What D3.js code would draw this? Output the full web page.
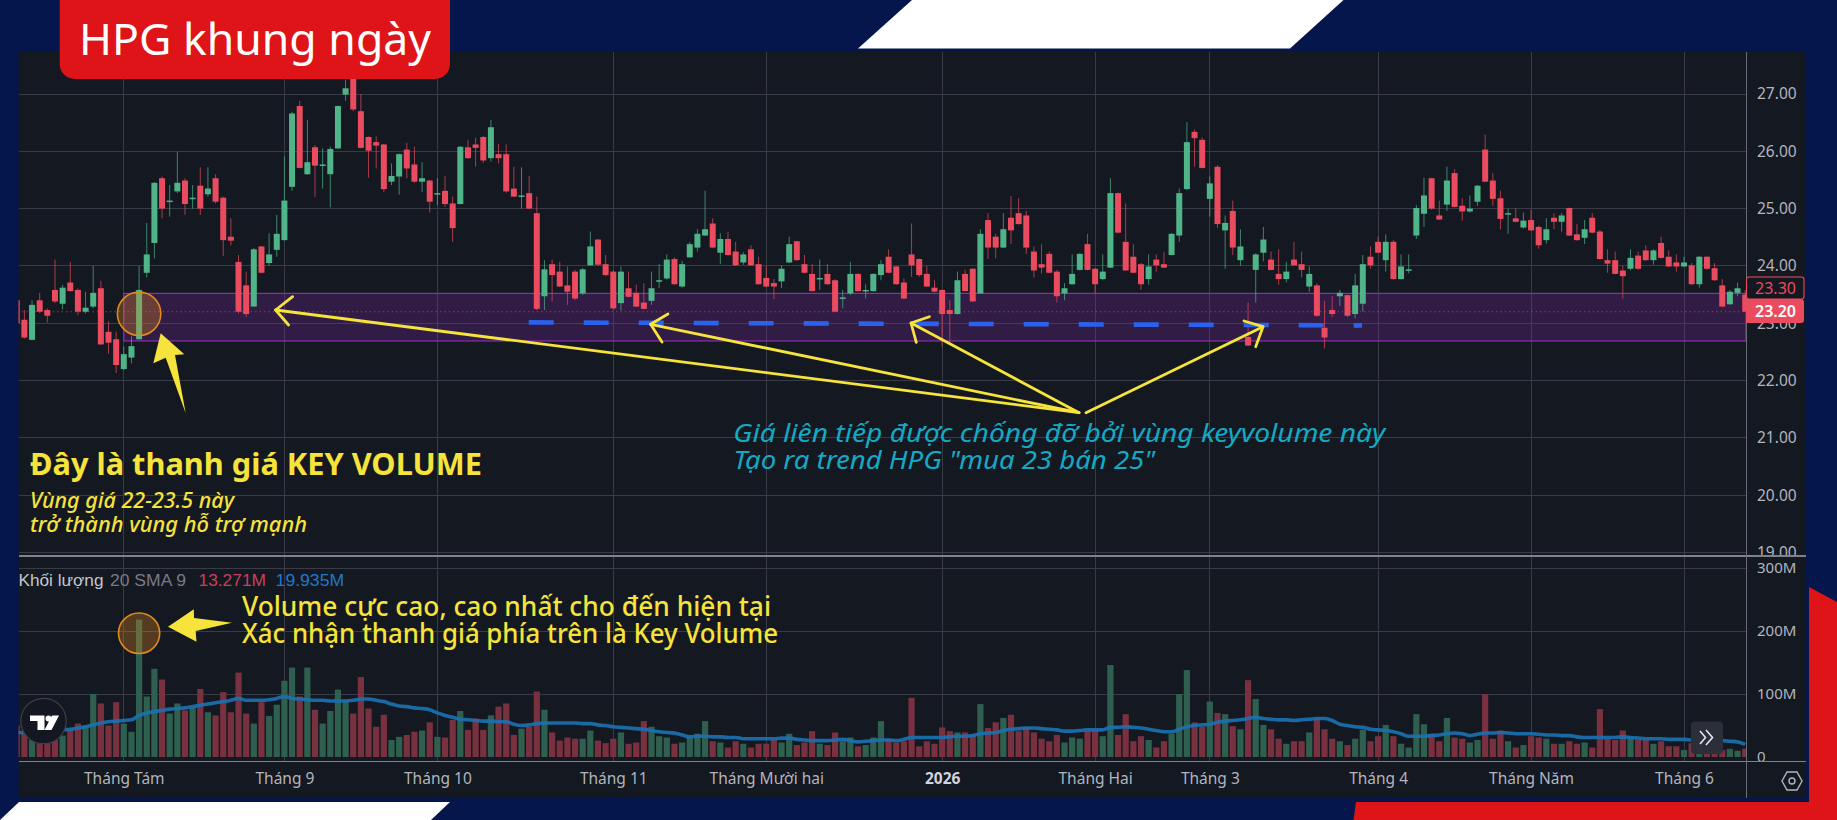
<!DOCTYPE html>
<html lang="vi">
<head>
<meta charset="utf-8">
<title>HPG khung ngày</title>
<script src="https://cdn.jsdelivr.net/npm/d3@7/dist/d3.min.js"></script>
<style>
  html, body { margin: 0; padding: 0; background: #05164c; overflow: hidden; }
  svg { display: block; }
  text { font-family: "Noto Sans", sans-serif; }
</style>
</head>
<body>
<svg id="chart" width="1837" height="820"></svg>
<script>
// Daily HPG candles (thousand VND), oldest first.
const opens = [
  23.4,23.06,22.71,23.4,23.23,23.58,23.34,23.71,23.58,23.2,
  23.29,23.61,22.85,22.72,22.2,22.4,22.72,23.88,24.4,25.53,
  25.12,25.3,25.49,25.17,25.4,25.25,25.53,25.19,24.51,24.07,
  23.66,23.29,24.34,24.05,24.28,24.45,25.38,26.79,25.6,26.07,
  25.75,25.6,26.05,26.99,27.3,26.7,26.25,26.16,26.12,25.47,
  25.56,26.03,25.77,25.47,25.49,25.25,25.31,25.09,25.08,26.07,
  26.12,26.25,25.88,25.95,25.95,25.35,25.21,25.27,24.92,23.47,
  24.03,23.9,23.66,23.9,23.52,24.01,24.46,24.03,23.9,23.35,
  23.61,23.53,23.36,23.39,23.73,23.78,24.12,23.64,24.15,24.32,
  24.53,24.74,24.23,24.47,24.25,24.06,24.29,24.03,23.79,23.7,
  23.73,24.06,24.43,24.03,23.86,23.77,23.86,23.75,23.43,23.52,
  23.86,23.56,23.56,23.84,24.16,23.99,23.71,24.2,24.12,23.86,
  23.62,23.58,23.23,23.16,23.86,23.95,23.52,24.8,24.51,24.32,
  24.84,24.92,24.88,24.25,24.03,24.21,23.9,23.52,23.68,23.93,
  24.38,23.95,23.77,23.97,25.27,24.42,24.16,24.03,23.77,24.11,
  24.03,24.19,24.53,25.34,26.34,26.2,25.17,25.73,24.62,24.96,
  24.1,22.76,23.93,24.23,24.11,23.86,23.77,24.11,24.03,23.64,
  23.66,22.92,23.23,23.47,23.49,23.16,23.34,24.16,24.42,24.1,
  24.42,23.77,23.93,24.53,24.91,25.53,24.88,25.07,25.62,25.05,
  24.95,25.12,26.03,25.49,25.18,24.91,24.83,24.67,24.8,24.68,
  24.45,24.84,24.77,25.01,24.55,24.49,24.84,24.6,24.1,24.1,
  23.92,23.95,24.18,24.27,24.1,24.4,24.16,24.06,23.99,24.01,
  23.68,24.16,23.96,23.66,23.33,23.53,23.5
];
const closes = [
  23.0,22.75,23.32,23.2,23.13,23.38,23.62,23.56,23.2,23.27,
  23.53,22.63,22.66,22.27,22.46,22.6,23.58,24.2,25.45,25.0,
  25.14,25.45,25.08,25.19,25.0,25.35,25.12,24.45,24.44,23.2,
  23.16,24.29,23.88,24.2,24.56,25.14,26.66,25.71,25.81,25.75,
  25.77,26.04,26.79,27.1,26.73,26.06,26.01,26.1,25.34,25.57,
  25.95,25.7,25.47,25.53,25.12,25.27,25.08,24.66,26.08,25.88,
  26.06,25.84,26.42,25.88,25.3,25.21,25.23,25.0,23.25,23.94,
  23.84,23.64,23.55,23.43,23.94,24.34,24.02,23.84,23.26,23.9,
  23.46,23.29,23.25,23.61,23.75,24.11,23.68,24.03,24.38,24.56,
  24.64,24.32,24.47,24.19,24.01,24.2,24.01,23.68,23.64,23.64,
  23.95,24.38,24.1,23.88,23.56,23.79,23.68,23.2,23.45,23.86,
  23.56,23.58,23.86,24.03,23.88,23.68,23.43,24.01,23.84,23.64,
  23.55,23.16,23.16,23.75,23.56,23.38,24.56,24.32,24.32,24.64,
  24.62,24.73,24.32,23.92,23.97,23.88,23.47,23.61,23.86,24.21,
  23.93,23.68,23.9,25.27,24.58,23.92,23.88,23.68,23.99,24.01,
  23.97,24.56,25.27,26.16,26.23,25.71,25.44,24.73,24.75,24.32,
  24.34,22.61,24.2,24.46,23.93,23.77,23.9,24.01,23.93,23.86,
  23.13,22.75,23.16,23.53,23.13,23.66,24.03,24.01,24.23,24.42,
  23.77,23.99,23.94,25.01,25.23,25.0,24.81,25.49,25.03,24.95,
  25.0,25.4,25.47,25.17,24.82,24.92,24.77,24.79,24.62,24.36,
  24.64,24.77,24.88,24.53,24.45,24.64,24.58,24.12,24.04,23.86,
  23.82,24.14,23.95,24.1,24.27,24.14,23.99,23.99,24.06,23.68,
  24.16,23.95,23.75,23.29,23.55,23.61,23.2
];
const highs = [
  23.42,23.23,23.4,23.53,23.26,24.11,23.67,24.07,23.61,23.55,
  24.0,23.74,23.03,22.85,22.59,22.77,24.0,24.75,25.46,25.56,
  25.41,25.99,25.53,25.41,25.72,25.72,25.6,25.21,24.83,24.19,
  23.9,24.31,24.35,24.57,24.89,25.91,26.69,26.88,26.55,26.11,
  26.05,26.08,26.8,27.25,27.45,27.0,26.26,26.26,26.13,25.79,
  25.96,26.15,26.08,25.81,25.5,25.53,25.57,25.21,26.09,26.2,
  26.24,26.27,26.55,26.13,26.12,25.73,25.72,25.57,25.21,24.1,
  24.11,24.07,23.99,23.93,23.97,24.6,24.47,24.19,23.92,23.99,
  23.9,23.67,23.7,23.9,24.03,24.2,24.15,24.09,24.42,24.64,
  25.31,24.83,24.57,24.59,24.42,24.24,24.36,24.16,24.0,23.77,
  24.01,24.51,24.44,24.19,24.03,24.11,24.03,23.77,23.58,24.07,
  23.87,23.68,23.87,24.1,24.29,24.0,23.78,24.74,24.13,24.0,
  23.75,23.59,23.4,23.9,23.93,23.96,24.64,24.92,24.56,24.92,
  25.22,25.18,24.96,24.34,24.38,24.25,23.93,23.7,24.2,24.22,
  24.56,23.96,24.2,25.53,25.28,25.09,24.38,24.05,24.2,24.2,
  24.24,24.57,25.35,26.51,26.38,26.24,25.56,25.76,24.88,25.14,
  24.64,23.36,24.22,24.68,24.25,24.29,24.07,24.42,24.25,23.99,
  23.7,23.39,23.47,23.58,23.5,23.86,24.19,24.34,24.51,24.55,
  24.45,24.2,24.2,25.06,25.54,25.54,25.14,25.73,25.69,25.18,
  25.23,25.41,26.29,25.62,25.31,25.0,25.0,24.93,24.98,24.7,
  24.83,24.92,24.92,25.02,24.73,24.8,24.92,24.63,24.29,24.25,
  24.0,24.29,24.25,24.36,24.29,24.51,24.27,24.2,24.16,24.05,
  24.17,24.17,24.05,23.77,23.58,23.71,23.58
];
const lows = [
  22.98,22.73,22.7,23.18,23.01,23.35,23.24,23.55,23.14,23.17,
  23.26,22.62,22.47,22.13,22.18,22.3,22.71,23.8,24.13,24.83,
  24.86,25.27,24.89,25.0,24.89,25.21,25.09,24.17,24.36,23.17,
  23.11,23.29,23.87,24.0,24.16,24.44,25.31,25.7,25.59,25.2,
  25.35,25.02,26.04,26.88,26.7,26.05,25.54,25.7,25.29,25.41,
  25.24,25.53,25.45,25.29,24.93,25.06,25.03,24.42,25.07,25.87,
  25.73,25.8,25.82,25.79,25.28,25.2,25.0,24.99,23.23,23.23,
  23.38,23.63,23.32,23.4,23.49,24.0,24.0,23.82,23.24,23.22,
  23.45,23.28,23.24,23.32,23.61,23.76,23.67,23.62,24.14,24.25,
  24.52,24.31,24.03,24.18,24.0,24.02,24.0,23.67,23.63,23.42,
  23.61,24.05,24.09,23.87,23.55,23.58,23.67,23.19,23.26,23.49,
  23.55,23.43,23.55,23.75,23.87,23.67,23.42,23.81,23.81,23.63,
  23.54,22.59,22.66,23.15,23.55,23.37,23.51,24.12,24.13,24.31,
  24.38,24.72,24.21,23.8,23.87,23.87,23.36,23.4,23.67,23.92,
  23.92,23.52,23.75,23.96,24.57,23.91,23.87,23.58,23.67,23.9,
  23.96,24.18,24.42,25.32,25.73,25.7,24.86,24.66,23.95,24.19,
  24.0,22.6,23.36,24.08,23.92,23.67,23.71,24.0,23.8,23.55,
  23.11,22.56,23.11,23.3,23.11,23.08,23.2,23.95,24.22,23.9,
  23.76,23.76,23.87,24.47,24.68,24.98,24.8,24.96,25.02,24.79,
  24.93,25.05,25.46,25.05,24.64,24.56,24.76,24.65,24.61,24.3,
  24.39,24.64,24.6,24.52,24.44,24.38,24.57,24.11,23.88,23.85,
  23.43,23.92,23.93,24.09,24.02,24.13,23.98,23.9,23.98,23.67,
  23.62,23.93,23.74,23.28,23.32,23.47,23.19
];
// Daily traded volume and its 9-day average, in millions of shares.
const volumes = [
  50,38,27,22,22,27,34,43,53,50,
  100,85,50,87,53,40,218,96,140,123,
  69,85,74,79,108,71,66,103,71,134,
  69,53,87,65,83,121,142,96,142,75,
  53,73,107,90,69,127,77,48,67,27,
  32,35,40,42,55,32,31,59,73,43,
  61,43,66,80,85,35,45,48,104,75,
  39,26,31,29,29,42,26,22,29,39,
  21,23,57,48,33,31,21,23,32,37,
  57,25,23,15,25,21,15,21,21,27,
  23,37,19,23,41,21,19,39,25,31,
  17,19,31,57,29,23,25,94,17,25,
  21,47,41,39,39,35,84,46,55,62,
  67,41,46,39,29,25,35,23,31,29,
  41,43,33,146,35,68,25,33,27,15,
  25,37,100,138,55,48,88,70,68,49,
  44,122,92,51,44,29,21,25,25,39,
  62,44,29,25,19,29,43,25,33,51,
  33,21,15,68,52,37,25,62,31,29,
  23,27,100,29,42,25,15,19,33,31,
  29,21,21,25,21,23,15,76,29,27,
  42,31,27,27,21,25,17,17,11,22,
  12,14,11,11,13,10,13.271
];
const volumeSma = [
  39,39,40,40,41,42,43,44,46,48,
  51,54,56,57,58,59,66,70,72,74,
  76,77,78,80,82,84,86,88,90,93,
  90,90,90,91,93,96,93,92,91,90,
  90,89,89,89,90,92,92,90,88,84,
  81,80,78,77,75,70,66,63,60,59,
  58,57,57,56,56,52,50,51,53,54,
  54,54,54,54,53,53,51,50,48,47,
  46,45,44,42,40,39,38,35,32,33,
  33,32,32,31,31,29,29,29,29,29,
  30,30,28,27,26,26,26,27,28,26,
  24,25,26,27,27,26,28,31,31,31,
  31,31,32,33,33,34,37,38,39,42,
  44,45,46,46,45,44,43,41,41,42,
  43,43,43,47,47,48,47,46,44,42,
  40,40,44,48,50,51,52,55,57,58,
  59,61,63,61,60,59,59,58,59,60,
  61,61,58,52,50,48,47,44,43,42,
  40,37,33,33,33,34,35,37,38,37,
  34,36,38,38,39,38,37,37,37,36,
  35,35,34,34,32,31,31,31,31,31,
  32,31,30,29,29,29,28,28,28,27,
  26,26,26,26,25,24,19.935
];
// First session of each month on the time axis.
const monthIndex = [14, 35, 55, 78, 98, 121, 141, 156, 178, 198, 218];
const monthLabels = ["Tháng Tám", "Tháng 9", "Tháng 10", "Tháng 11", "Tháng Mười hai", "2026", "Tháng Hai", "Tháng 3", "Tháng 4", "Tháng Năm", "Tháng 6"];
const priceTicks = [19, 20, 21, 22, 23, 24, 25, 26, 27];
const volumeTicks = [0, 100, 200, 300];
const keyBarIndex = 16;
const supportZone = [22.69, 23.52];
const lastPrice = 23.20;
const movingPrice = "23.30";

const COLORS = {
  navy: "#05164c", panel: "#141821", grid: "#393c46", axis: "#696c76", sep: "#7f828b",
  up: "#4fb589", down: "#ea4b5e", upVol: "#2f5f4f", downVol: "#79303f",
  sma: "#1a72b4", text: "#b2b5be", yellow: "#f6e33b", cyan: "#14a9c4", red: "#de1418",
  zoneFill: "rgba(122,38,160,0.28)", zoneLine: "#8e2fae", orange: "#e08a1e", blue: "#2a62ee"
};

const PANEL = { left: 18.5, right: 1806, top: 52, bottom: 798, axis: 1746, priceBottom: 556, volumeBottom: 761.5 };

const svg = d3.select("#chart");
const x = d3.scaleLinear().domain([0, opens.length - 1]).range([16.73, 1745.2]);
const yPrice = d3.scaleLinear().domain([19, 27]).range([552.4, 94]);
const yVol = d3.scaleLinear().domain([0, 300]).range([757, 568]);

const defs = svg.append("defs");
defs.append("clipPath").attr("id", "price-clip").append("rect")
  .attr("x", PANEL.left).attr("y", PANEL.top)
  .attr("width", PANEL.axis - PANEL.left).attr("height", PANEL.priceBottom - PANEL.top);
defs.append("clipPath").attr("id", "vol-clip").append("rect")
  .attr("x", PANEL.left).attr("y", PANEL.priceBottom)
  .attr("width", PANEL.axis - PANEL.left).attr("height", PANEL.volumeBottom - PANEL.priceBottom);
defs.append("clipPath").attr("id", "price-axis-clip").append("rect")
  .attr("x", 0).attr("y", PANEL.top).attr("width", 70).attr("height", PANEL.priceBottom - PANEL.top);

// Page backdrop: navy field with white and red cut-out shapes.
svg.append("rect").attr("width", 1837).attr("height", 820).attr("fill", COLORS.navy);
const shape = (pts, fill) => svg.append("polygon").attr("points", pts.map(p => p.join(",")).join(" ")).attr("fill", fill);
shape([[858, 48.5], [912, 0], [1343.5, 0], [1290, 48.5]], "#ffffff");
shape([[0, 820], [19, 802], [450, 802], [431, 820]], "#ffffff");
shape([[1809, 587], [1837, 602], [1837, 820], [1353.5, 820], [1356, 802], [1809, 802]], COLORS.red);

svg.append("rect").attr("x", PANEL.left).attr("y", PANEL.top)
  .attr("width", PANEL.right - PANEL.left).attr("height", PANEL.bottom - PANEL.top)
  .attr("fill", COLORS.panel);

// Grid
const grid = svg.append("g").attr("stroke", COLORS.grid).attr("stroke-width", 1).attr("shape-rendering", "crispEdges");
grid.selectAll(".gx").data(monthIndex).join("line")
  .attr("x1", d => x(d)).attr("x2", d => x(d)).attr("y1", PANEL.top).attr("y2", PANEL.volumeBottom);
grid.selectAll(".gp").data(priceTicks).join("line")
  .attr("x1", PANEL.left).attr("x2", PANEL.axis).attr("y1", d => yPrice(d)).attr("y2", d => yPrice(d));
grid.selectAll(".gv").data(volumeTicks.slice(1)).join("line")
  .attr("x1", PANEL.left).attr("x2", PANEL.axis).attr("y1", d => yVol(d)).attr("y2", d => yVol(d));

// Support zone and last-price marker
const priceLayer = svg.append("g").attr("clip-path", "url(#price-clip)");
priceLayer.append("rect")
  .attr("x", x(monthIndex[0])).attr("width", PANEL.axis - x(monthIndex[0]))
  .attr("y", yPrice(supportZone[1])).attr("height", yPrice(supportZone[0]) - yPrice(supportZone[1]))
  .attr("fill", COLORS.zoneFill).attr("stroke", COLORS.zoneLine).attr("stroke-width", 1.2);
priceLayer.append("line")
  .attr("x1", 22).attr("x2", PANEL.axis).attr("y1", yPrice(lastPrice)).attr("y2", yPrice(lastPrice))
  .attr("stroke", COLORS.down).attr("stroke-opacity", 0.65).attr("stroke-width", 1.2).attr("stroke-dasharray", "1.4 3");

// Volume pane
const volLayer = svg.append("g").attr("clip-path", "url(#vol-clip)");
const rising = i => closes[i] >= opens[i];
volLayer.selectAll("rect").data(volumes).join("rect")
  .attr("x", (d, i) => x(i) - 3.1).attr("width", 6.2)
  .attr("y", d => yVol(d)).attr("height", d => yVol(0) - yVol(d))
  .attr("fill", (d, i) => rising(i) ? COLORS.upVol : COLORS.downVol);
volLayer.append("path").datum(volumeSma)
  .attr("fill", "none").attr("stroke", COLORS.sma).attr("stroke-width", 3.6).attr("stroke-opacity", 0.9)
  .attr("d", d3.line().x((d, i) => x(i)).y(d => yVol(d)).curve(d3.curveMonotoneX));

// Candlesticks
const candles = priceLayer.selectAll(".candle").data(opens).join("g").attr("class", "candle")
  .attr("fill", (d, i) => rising(i) ? COLORS.up : COLORS.down)
  .attr("stroke", (d, i) => rising(i) ? COLORS.up : COLORS.down);
candles.append("line")
  .attr("x1", (d, i) => x(i)).attr("x2", (d, i) => x(i))
  .attr("y1", (d, i) => yPrice(highs[i])).attr("y2", (d, i) => yPrice(lows[i]))
  .attr("stroke-width", 1).attr("stroke-opacity", 0.7);
candles.append("rect")
  .attr("stroke", "none")
  .attr("x", (d, i) => x(i) - 3).attr("width", 6)
  .attr("y", (d, i) => yPrice(Math.max(opens[i], closes[i])))
  .attr("height", (d, i) => Math.max(1.5, Math.abs(yPrice(opens[i]) - yPrice(closes[i]))));

// Dashed support line
svg.append("line").attr("x1", 528.7).attr("y1", 322.4).attr("x2", 1362).attr("y2", 325.4)
  .attr("stroke", COLORS.blue).attr("stroke-width", 4.6).attr("stroke-dasharray", "25 30");

// Arrows pointing at the tests of the zone
const arrowLayer = svg.append("g").attr("fill", "none").attr("stroke", COLORS.yellow).attr("stroke-width", 2.8).attr("stroke-linejoin", "round").attr("stroke-linecap", "round");
const apex = [1079, 412.7];
[
  { from: apex, tip: [275.6, 310], a: [292.6, 296.7], b: [288.6, 325] },
  { from: apex, tip: [650.6, 324.3], a: [668, 314], b: [662, 342] },
  { from: apex, tip: [911, 323], a: [929.4, 316.7], b: [916.3, 342.3] },
  { from: [1086, 412.7], tip: [1263, 326.7], a: [1244, 321], b: [1255.7, 346.7] }
].forEach(({ from, tip, a, b }) => {
  arrowLayer.append("path").attr("d", d3.line()([from, tip]));
  arrowLayer.append("path").attr("d", d3.line()([a, tip, b]));
});

// Solid callout arrows
svg.append("polygon").attr("fill", COLORS.yellow)
  .attr("points", "160.7,333.3 184.3,354.3 175,355 185.7,413.3 165.7,357.7 153.3,363.3");
svg.append("polygon").attr("fill", COLORS.yellow)
  .attr("points", "168,626.7 193.8,609.3 194,618 232,622.7 195.7,631 196.5,641.7");

// Rings around the key bar in both panes
[[yPrice(opens[keyBarIndex]) - 25.5, 21.7, 21.7], [yVol(volumes[keyBarIndex]) + 13.6, 20.6, 20.3]].forEach(([cy, rx, ry]) => {
  svg.append("ellipse").attr("cx", x(keyBarIndex)).attr("cy", cy).attr("rx", rx).attr("ry", ry)
    .attr("fill", "rgba(224,138,30,0.32)").attr("stroke", COLORS.orange).attr("stroke-width", 1.6);
});

// Axes
const styleAxis = g => {
  g.select(".domain").remove();
  g.selectAll("text").attr("fill", COLORS.text).style("font-family", '"Noto Sans", sans-serif');
};
svg.append("g").attr("transform", `translate(${PANEL.axis},0)`).attr("clip-path", "url(#price-axis-clip)")
  .call(d3.axisRight(yPrice).tickValues(priceTicks).tickSize(0).tickPadding(11).tickFormat(d3.format(".2f")))
  .call(styleAxis).selectAll("text").style("font-size", "15.5px");
svg.append("g").attr("transform", `translate(${PANEL.axis},0)`)
  .call(d3.axisRight(yVol).tickValues(volumeTicks).tickSize(0).tickPadding(11).tickFormat(d => d === 0 ? "0" : d + "M"))
  .call(styleAxis).selectAll("text").style("font-size", "15px");
const timeAxis = svg.append("g").attr("transform", "translate(0,773)")
  .call(d3.axisBottom(x).tickValues(monthIndex).tickSize(0).tickPadding(0).tickFormat((d, i) => monthLabels[i]))
  .call(styleAxis);
timeAxis.selectAll("text").style("font-size", "15.5px")
  .style("font-weight", (d, i) => monthLabels[i] === "2026" ? 700 : 400)
  .attr("fill", (d, i) => monthLabels[i] === "2026" ? "#d1d4dc" : COLORS.text);

// Pane separators and price-scale edge
const rule = (x1, y1, x2, y2, color, w) => svg.append("line").attr("x1", x1).attr("y1", y1).attr("x2", x2).attr("y2", y2)
  .attr("stroke", color).attr("stroke-width", w).attr("shape-rendering", "crispEdges");
rule(PANEL.left, 556, PANEL.right, 556, COLORS.sep, 1.5);
rule(PANEL.left, 761.5, PANEL.right, 761.5, COLORS.sep, 1.5);
rule(PANEL.axis, PANEL.top, PANEL.axis, PANEL.bottom, COLORS.axis, 1);

// Price tags on the scale
svg.append("rect").attr("x", PANEL.axis + 0.5).attr("y", 277).attr("width", 57.5).attr("height", 22).attr("rx", 2.5)
  .attr("fill", COLORS.panel).attr("stroke", COLORS.down).attr("stroke-width", 1.1);
svg.append("text").attr("x", 1775.5).attr("y", 293.5).attr("text-anchor", "middle")
  .attr("fill", COLORS.down).style("font-size", "16px").text(movingPrice);
svg.append("path").attr("fill", COLORS.down)
  .attr("d", `M${PANEL.axis} 299H1801a3 3 0 0 1 3 3V320a3 3 0 0 1 -3 3H${PANEL.axis}Z`);
svg.append("text").attr("x", 1775.5).attr("y", 317).attr("text-anchor", "middle")
  .attr("fill", "#ffffff").style("font-size", "16px").style("font-weight", 600).text(d3.format(".2f")(lastPrice));

// Volume legend
const legend = (txt, xPos, width, color) => svg.append("text").attr("x", xPos).attr("y", 585.5)
  .attr("textLength", width).attr("lengthAdjust", "spacingAndGlyphs").attr("fill", color)
  .style("font-family", '"Liberation Sans", sans-serif').style("font-size", "16px").text(txt);
legend("Khối lượng", 18.5, 85, "#c3c6ce");
legend("20 SMA 9", 110, 76, "#787b86");
legend("13.271M", 198.5, 67.5, "#c9405a");
legend("19.935M", 275.6, 68.5, "#1f78cc");

// Annotations
const note = (txt, xPos, yPos, width, size, color, weight, style) => svg.append("text")
  .attr("x", xPos).attr("y", yPos).attr("textLength", width).attr("lengthAdjust", "spacingAndGlyphs")
  .attr("fill", color).style("font-size", size + "px").style("font-weight", weight).style("font-style", style || "normal").text(txt);
note("Đây là thanh giá KEY VOLUME", 30, 475, 452, 30, COLORS.yellow, 700);
note("Vùng giá 22-23.5 này", 30, 508, 204, 21, COLORS.yellow, 500, "italic");
note("trở thành vùng hỗ trợ mạnh", 30, 531.7, 277, 21, COLORS.yellow, 500, "italic");
note("Giá liên tiếp được chống đỡ bởi vùng keyvolume này", 733.3, 441.7, 652, 26, COLORS.cyan, 400, "italic");
note('Tạo ra trend HPG "mua 23 bán 25"', 733.5, 469, 421.5, 26, COLORS.cyan, 400, "italic");
note("Volume cực cao, cao nhất cho đến hiện tại", 242, 615.7, 529, 26.5, COLORS.yellow, 500);
note("Xác nhận thanh giá phía trên là Key Volume", 242, 643, 536, 26.5, COLORS.yellow, 500);

// Corner badge
svg.append("rect").attr("x", 59.7).attr("y", -20).attr("width", 390.3).attr("height", 99).attr("rx", 15).attr("fill", COLORS.red);
svg.append("text").attr("x", 79).attr("y", 55).attr("textLength", 352).attr("lengthAdjust", "spacingAndGlyphs")
  .attr("fill", "#ffffff").style("font-size", "43px").text("HPG khung ngày");

// Watermark badge
const badge = svg.append("g");
badge.append("circle").attr("cx", 43.5).attr("cy", 721).attr("r", 22.7).attr("fill", "#131722").attr("stroke", "#3d404b").attr("stroke-width", 1.2);
badge.append("path").attr("fill", "#ffffff").attr("d", "M30 715.5H44.5V730H37.5V721H30Z");
badge.append("circle").attr("cx", 48.5).attr("cy", 718.5).attr("r", 3).attr("fill", "#ffffff");
badge.append("path").attr("fill", "#ffffff").attr("d", "M52 715.5H59L51.5 730H44.5Z");

// Scroll-to-latest button
const jump = svg.append("g");
jump.append("rect").attr("x", 1691).attr("y", 721.5).attr("width", 32).attr("height", 32.5).attr("rx", 4).attr("fill", "#2b2f3a");
jump.append("path").attr("fill", "none").attr("stroke", "#e6e7ea").attr("stroke-width", 1.6)
  .attr("d", "M1700 731l5.5 6.5l-5.5 6.5M1706 730l6.5 7.5l-6.5 7.5");

// Settings glyph
const gear = svg.append("g").attr("fill", "none").attr("stroke", COLORS.text).attr("stroke-width", 1.4);
gear.append("path").attr("d", "M1782 781l5-9h10l5 9l-5 9h-10Z");
gear.append("circle").attr("cx", 1792).attr("cy", 781).attr("r", 3);
</script>
</body>
</html>
